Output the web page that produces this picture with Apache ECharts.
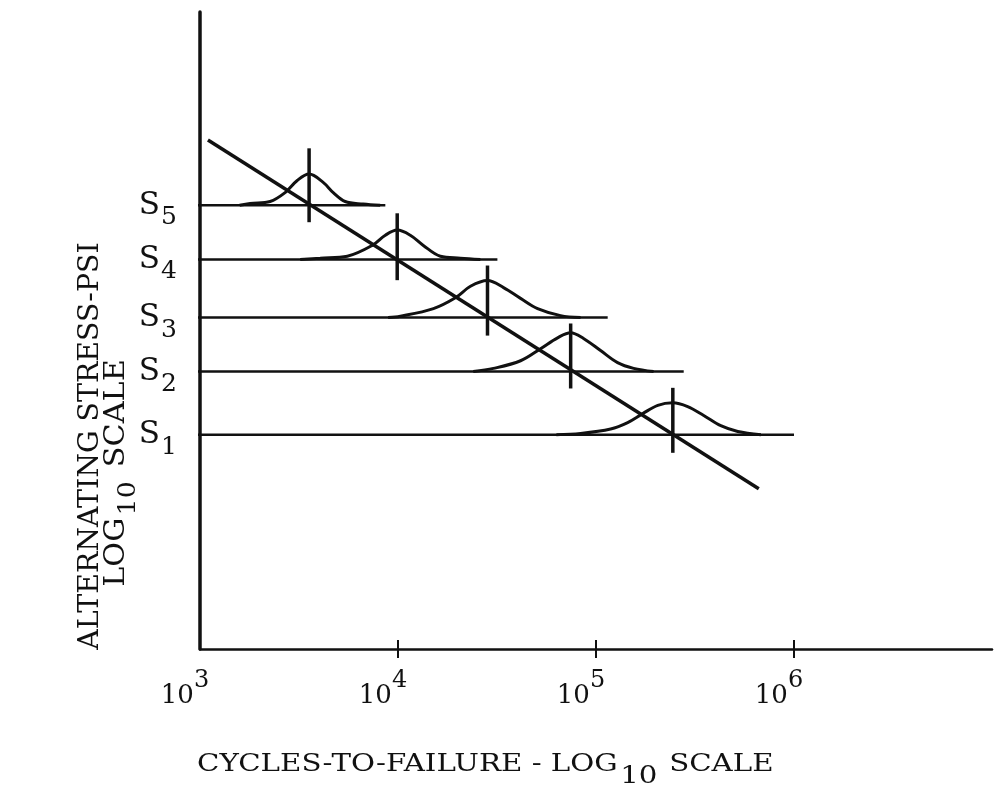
<!DOCTYPE html>
<html><head><meta charset="utf-8">
<script src="https://cdn.jsdelivr.net/npm/echarts@6/dist/echarts.min.js"></script>
<style>html,body{margin:0;padding:0;background:#fff}#c{width:997px;height:800px}</style>
</head><body><div id="c"></div>
<script>
// x: log10(cycles-to-failure); y: log10 alternating stress (arbitrary units)
const decadeTicks = [3, 4, 5, 6];
const decadeExponents = ['3', '4', '5', '6'];
const stressNames = ['1', '2', '3', '4', '5'];
const stressLevels = [3.365, 4.355, 5.204, 6.116, 6.965];
const lineStart = 2.975;
const lineEnds = [6.0, 5.443, 5.059, 4.502, 3.936];
const medianLife = [5.388, 4.872, 4.452, 3.996, 3.551];
const markTop = [4.10, 5.11, 6.02, 6.84, 7.86];
const markBottom = [3.08, 4.09, 4.92, 5.79, 6.70];
const snLine = [[3.04, 7.99], [5.822, 2.516]];
// bell curves: [log10 cycles, height above stress level]
const curveS1 = [[4.80,0],[4.922,0.02],[5.074,0.09],[5.160,0.19],[5.236,0.33],[5.312,0.46],[5.388,0.50],[5.463,0.44],[5.544,0.30],[5.630,0.14],[5.716,0.05],[5.833,0]];
const curveS2 = [[4.38,0],[4.482,0.05],[4.619,0.17],[4.720,0.36],[4.806,0.53],[4.872,0.61],[4.937,0.52],[5.023,0.33],[5.109,0.14],[5.190,0.05],[5.291,0]];
const curveS3 = [[3.95,0],[4.012,0.02],[4.179,0.14],[4.290,0.31],[4.366,0.49],[4.452,0.58],[4.533,0.47],[4.619,0.30],[4.705,0.14],[4.821,0.03],[4.922,0]];
const curveS4 = [[3.506,0],[3.607,0.02],[3.744,0.05],[3.870,0.22],[3.936,0.38],[3.996,0.46],[4.062,0.38],[4.128,0.22],[4.214,0.05],[4.315,0.02],[4.416,0]];
const curveS5 = [[3.20,0],[3.253,0.03],[3.354,0.06],[3.430,0.20],[3.491,0.39],[3.551,0.49],[3.622,0.36],[3.673,0.20],[3.733,0.06],[3.824,0.02],[3.91,0]];
const curves = [curveS1, curveS2, curveS3, curveS4, curveS5];

const FONT = "'DejaVu Serif', 'Liberation Serif', serif";
const INK = '#111';
const T = { fontFamily: FONT, color: INK };
const G = { fontFamily: FONT, fill: INK };

const series = [];
const base = { type: 'line', showSymbol: false, symbol: 'none', silent: true, clip: false, animation: false };
stressLevels.forEach((lv, i) => {
  series.push(Object.assign({}, base, {
    data: [[lineStart, lv], [lineEnds[i], lv]],
    lineStyle: { color: INK, width: 2.5 }
  }));
  series.push(Object.assign({}, base, {
    smooth: 0.35,
    data: curves[i].map(p => [p[0], lv + p[1]]),
    lineStyle: { color: INK, width: 3 }
  }));
  series.push(Object.assign({}, base, {
    data: [[medianLife[i], markBottom[i]], [medianLife[i], markTop[i]]],
    lineStyle: { color: INK, width: 3.5 }
  }));
});
series.push(Object.assign({}, base, {
  data: snLine,
  lineStyle: { color: INK, width: 3.5 }
}));
// stress-level labels S1..S5, anchored at the left end of the axis
series.push({
  type: 'scatter', silent: true, animation: false, clip: false,
  symbolSize: 0,
  itemStyle: { color: INK, opacity: 1 },
  data: stressLevels.map((lv, i) => ({ value: [3, lv], name: stressNames[i] })),
  label: {
    show: true, position: 'left', distance: 23, color: INK, offset: [0, 5],
    formatter: p => '{s|S}{n|' + p.name + '}',
    rich: {
      s: Object.assign({ fontSize: 31, verticalAlign: 'top', lineHeight: 40 }, T),
      n: Object.assign({ fontSize: 25, verticalAlign: 'bottom', lineHeight: 26, padding: [48, 0, 0, 1] }, T)
    }
  }
});

const chart = echarts.init(document.getElementById('c'), null, { renderer: 'canvas' });
chart.setOption({
  backgroundColor: '#fff',
  animation: false,
  grid: { left: 200, right: 5, top: 12, bottom: 151, containLabel: false },
  xAxis: [{
    type: 'value', min: 3, max: 7, interval: 1,
    splitLine: { show: false },
    axisLine: { lineStyle: { color: INK, width: 2.5 } },
    axisTick: { show: true, length: 9, customValues: [4, 5, 6], lineStyle: { color: INK, width: 2 } },
    axisLabel: {
      customValues: decadeTicks,
      showMinLabel: true, showMaxLabel: true,
      margin: 20, color: INK,
      formatter: v => '{b|10}{p|' + decadeExponents[decadeTicks.indexOf(v)] + '}',
      rich: {
        b: Object.assign({ fontSize: 26, verticalAlign: 'bottom', lineHeight: 40 }, T),
        p: Object.assign({ fontSize: 24, verticalAlign: 'top', lineHeight: 28, padding: [0, 30, 0, 0] }, T)
      }
    }
  }, {
    type: 'value', min: 3, max: 7, interval: 1, position: 'bottom',
    splitLine: { show: false },
    axisLine: { show: false },
    axisTick: { show: true, inside: true, length: 9, customValues: [4, 5, 6], lineStyle: { color: INK, width: 2 } },
    axisLabel: { show: false }
  }],
  yAxis: {
    type: 'value', min: 0, max: 10,
    splitLine: { show: false },
    axisLine: { lineStyle: { color: INK, width: 3.5 } },
    axisTick: { show: false },
    axisLabel: { show: false }
  },
  graphic: [{
    type: 'text', x: 197, y: 753, scaleX: 1.22,
    style: {
      text: '{m|CYCLES-TO-FAILURE - LOG}{s|10}{m| SCALE}',
      rich: {
        m: Object.assign({ fontSize: 24, verticalAlign: 'top', lineHeight: 36 }, G),
        s: Object.assign({ fontSize: 24, verticalAlign: 'bottom', lineHeight: 24, padding: [22, 2, 0, 2] }, G)
      }
    }
  }, {
    type: 'text', x: 91, y: 446, rotation: Math.PI / 2, scaleX: 1.05,
    style: Object.assign({
      text: 'ALTERNATING STRESS-PSI',
      fontSize: 27,
      align: 'center', verticalAlign: 'middle'
    }, G)
  }, {
    type: 'text', x: 122, y: 473, rotation: Math.PI / 2, scaleX: 1.12,
    style: {
      text: '{m|LOG}{s|10}{m| SCALE}',
      align: 'center', verticalAlign: 'middle',
      rich: {
        m: Object.assign({ fontSize: 27, verticalAlign: 'top', lineHeight: 38 }, G),
        s: Object.assign({ fontSize: 24, verticalAlign: 'bottom', lineHeight: 24, padding: [0, 4, 0, 2] }, G)
      }
    }
  }],
  series: series
});
</script></body></html>
